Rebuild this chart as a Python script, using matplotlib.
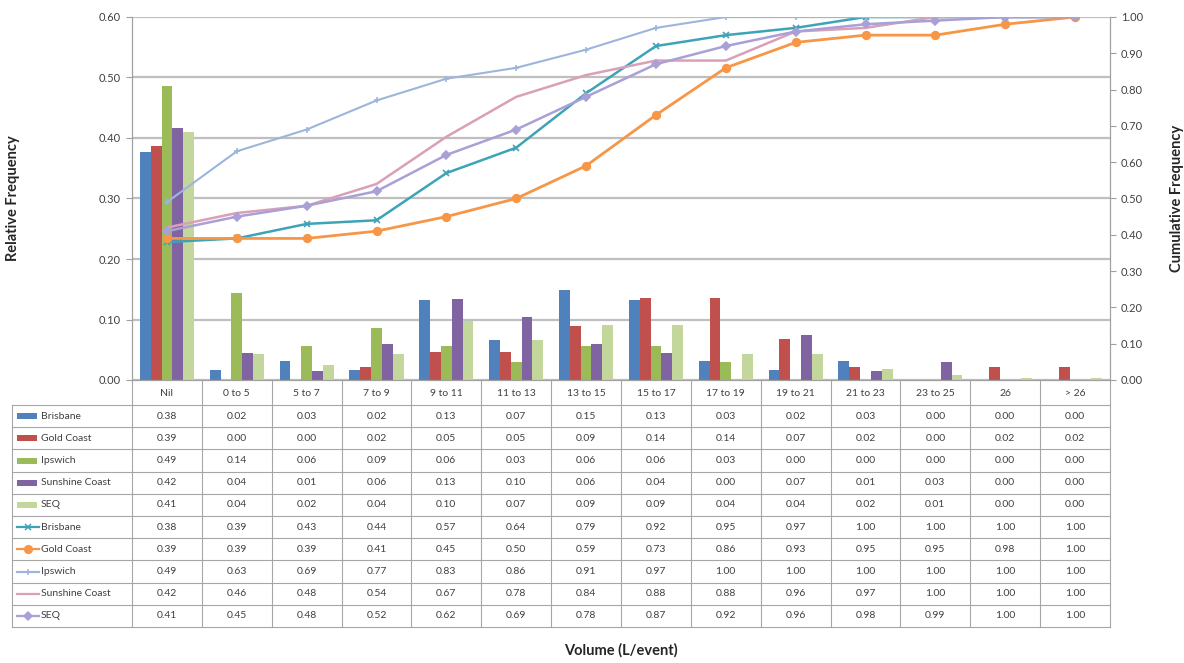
import matplotlib
matplotlib.use("Agg")
import matplotlib.pyplot as plt
from matplotlib.patches import Rectangle
import numpy as np

plt.rcParams['font.family'] = ['Lato', 'DejaVu Sans']

categories = ["Nil", "0 to 5", "5 to 7", "7 to 9", "9 to 11", "11 to 13", "13 to 15",
              "15 to 17", "17 to 19", "19 to 21", "21 to 23", "23 to 25", "26", "> 26"]

# Relative frequency (bars)
rel_brisbane = [0.377, 0.016, 0.032, 0.016, 0.132, 0.066, 0.148, 0.132, 0.032, 0.016, 0.032, 0.0, 0.0, 0.0]
rel_goldcoast = [0.386, 0.0, 0.0, 0.022, 0.046, 0.046, 0.090, 0.136, 0.136, 0.068, 0.022, 0.0, 0.022, 0.022]
rel_ipswich = [0.486, 0.143, 0.057, 0.086, 0.057, 0.029, 0.057, 0.057, 0.029, 0.0, 0.0, 0.0, 0.0, 0.0]
rel_sunshine = [0.417, 0.045, 0.015, 0.060, 0.134, 0.104, 0.060, 0.045, 0.0, 0.075, 0.015, 0.030, 0.0, 0.0]
rel_seq = [0.410, 0.043, 0.024, 0.043, 0.098, 0.066, 0.091, 0.091, 0.043, 0.043, 0.018, 0.008, 0.003, 0.003]

# Cumulative frequency (lines)
cum_brisbane = [0.38, 0.39, 0.43, 0.44, 0.57, 0.64, 0.79, 0.92, 0.95, 0.97, 1.00, 1.00, 1.00, 1.00]
cum_goldcoast = [0.39, 0.39, 0.39, 0.41, 0.45, 0.50, 0.59, 0.73, 0.86, 0.93, 0.95, 0.95, 0.98, 1.00]
cum_ipswich = [0.49, 0.63, 0.69, 0.77, 0.83, 0.86, 0.91, 0.97, 1.00, 1.00, 1.00, 1.00, 1.00, 1.00]
cum_sunshine = [0.42, 0.46, 0.48, 0.54, 0.67, 0.78, 0.84, 0.88, 0.88, 0.96, 0.97, 1.00, 1.00, 1.00]
cum_seq = [0.41, 0.45, 0.48, 0.52, 0.62, 0.69, 0.78, 0.87, 0.92, 0.96, 0.98, 0.99, 1.00, 1.00]

bar_series = [
    ("Brisbane", rel_brisbane, "#4F81BD"),
    ("Gold Coast", rel_goldcoast, "#C0504D"),
    ("Ipswich", rel_ipswich, "#9BBB59"),
    ("Sunshine Coast", rel_sunshine, "#8064A2"),
    ("SEQ", rel_seq, "#C3D69B"),
]
line_series = [
    ("Brisbane", cum_brisbane, "#3FA3B8", "x", 5, 1.8),
    ("Gold Coast", cum_goldcoast, "#F79646", "o", 5.5, 2.0),
    ("Ipswich", cum_ipswich, "#9DB5DD", "+", 4, 1.5),
    ("Sunshine Coast", cum_sunshine, "#D9A0B8", "", 0, 1.8),
    ("SEQ", cum_seq, "#A8A0D6", "D", 4, 1.8),
]

W, H = 1184, 663
fig = plt.figure(figsize=(W / 100, H / 100), dpi=100)
L, R, T, B = 132, 1110, 17, 380
ax = fig.add_axes([L / W, 1 - B / H, (R - L) / W, (B - T) / H])
ax2 = ax.twinx()

x = np.arange(len(categories))
bw = 0.155
for k, (name, vals, col) in enumerate(bar_series):
    ax.bar(x + (k - 2) * bw, vals, width=bw, color=col, edgecolor='none', zorder=2)

for name, vals, col, mk, ms, lw in line_series:
    ax2.plot(x, vals, color=col, marker=mk if mk else None, markersize=ms, lw=lw,
             markeredgewidth=1.2, zorder=3)

tick_col = '#404040'
grid_col = '#BFBFBF'
ax.set_xlim(-0.5, len(categories) - 0.5)
ax.set_ylim(0, 0.6)
ax.set_yticks(np.arange(0, 0.61, 0.1))
ax.set_yticklabels([f"{v:.2f}" for v in np.arange(0, 0.61, 0.1)])
ax2.set_ylim(0, 1.0)
ax2.set_yticks(np.arange(0, 1.01, 0.1))
ax2.set_yticklabels([f"{v:.2f}" for v in np.arange(0, 1.01, 0.1)])
ax.set_xticks([])
ax.set_axisbelow(True)
ax.yaxis.grid(True, color=grid_col, lw=1.6)
for a in (ax, ax2):
    a.tick_params(axis='y', labelsize=8, colors=tick_col, length=4, width=0.8, color='#A0A0A0', pad=4)
    a.spines['top'].set_visible(False)
    for s in ('left', 'right', 'bottom'):
        a.spines[s].set_color('#A0A0A0')
        a.spines[s].set_linewidth(0.8)

ax.set_ylabel("Relative Frequency", fontsize=10.5, fontweight='bold', color='#262626')
ax.yaxis.set_label_coords(-(L - 20) / (R - L), 0.5)
ax2.set_ylabel("Cumulative Frequency", fontsize=10.5, fontweight='bold', color='#262626', rotation=90)
ax2.yaxis.set_label_coords(1 + (1170 - R) / (R - L), 0.5)

# ---- data table below the plot (pixel layout axes) ----
tax = fig.add_axes([0, 0, 1, 1], zorder=-1)
tax.set_xlim(0, W)
tax.set_ylim(H, 0)
tax.axis('off')
tax.patch.set_alpha(0)

colw = (R - L) / len(categories)
hdr_top, hdr_bot = B, 405
rowh = 22.2
n_rows = len(bar_series) + len(line_series)
tbl_bot = hdr_bot + n_rows * rowh
lbl_left = 12
line_c = '#A6A6A6'
txt_c = '#404040'

for i in range(len(categories) + 1):
    xp = L + i * colw
    tax.plot([xp, xp], [hdr_top, tbl_bot], color=line_c, lw=0.8)
tax.plot([lbl_left, lbl_left], [hdr_bot, tbl_bot], color=line_c, lw=0.8)
for r in range(n_rows + 1):
    yp = hdr_bot + r * rowh
    tax.plot([lbl_left, R], [yp, yp], color=line_c, lw=0.8)

for i, c in enumerate(categories):
    tax.text(L + (i + 0.5) * colw, (hdr_top + hdr_bot) / 2 + 1, c, ha='center', va='center',
             fontsize=7.5, color=txt_c)

rows = [(n, v, c, 'bar', None, None) for n, v, c in bar_series] + \
       [(n, v, c, 'line', mk, ms) for n, v, c, mk, ms, lw in line_series]
for r, (name, vals, col, kind, mk, ms) in enumerate(rows):
    yc = hdr_bot + (r + 0.5) * rowh
    if kind == 'bar':
        tax.add_patch(Rectangle((17, yc - 3), 20, 6, color=col, lw=0))
    else:
        tax.plot([17, 39], [yc, yc], color=col, lw=1.6)
        if mk:
            tax.plot([28], [yc], marker=mk, color=col, markersize=ms, markeredgewidth=1.1)
    tax.text(41, yc, name, ha='left', va='center', fontsize=7.5, color=txt_c)
    for i, v in enumerate(vals):
        tax.text(L + (i + 0.5) * colw, yc, f"{v:.2f}", ha='center', va='center',
                 fontsize=7.5, color=txt_c)

tax.text((L + R) / 2, 650, "Volume (L/event)", ha='center', va='center', fontsize=10.5,
         fontweight='bold', color='#262626')

fig.savefig("out.png", dpi=100)
